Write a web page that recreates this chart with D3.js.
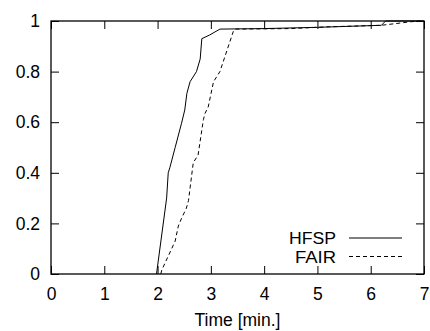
<!DOCTYPE html>
<html lang="en">
<head>
  <meta charset="UTF-8">
  <title>HFSP vs FAIR CDF</title>
  <script src="https://d3js.org/d3.v7.min.js"></script>
  <style>
    body { margin: 0; background: #fff; }
    svg text { font-family: "Liberation Sans", Arial, sans-serif; font-size: 17.5px; fill: #000; }
    svg .legend text { font-size: 16px; }
    .axis path { display: none; }
    .axis line { stroke: #000; stroke-width: 1; }
    .curve { fill: none; stroke: #000; stroke-width: 1; }
  </style>
</head>
<body>
<div id="chart"></div>
<script>

// data
const xTicks = [0, 1, 2, 3, 4, 5, 6, 7];
const yTicks = [0, 0.2, 0.4, 0.6, 0.8, 1];
const seriesNames = ["HFSP", "FAIR"];

const hfspX = [1.98, 2.17, 2.20, 2.23, 2.33, 2.45, 2.51, 2.55, 2.61, 2.73, 2.80, 2.83, 2.98, 3.17, 4.0, 5.0, 6.2, 6.28, 7.0];
const hfspY = [0, 0.30, 0.40, 0.42, 0.50, 0.596, 0.648, 0.714, 0.76, 0.80, 0.85, 0.93, 0.945, 0.968, 0.970, 0.975, 0.983, 1.0, 1.0];

const fairX = [2.06, 2.08, 2.33, 2.39, 2.45, 2.54, 2.58, 2.67, 2.76, 2.86, 2.89, 2.95, 3.05, 3.17, 3.42, 3.45, 4.5, 5.2, 6.2, 6.75, 6.92, 7.0];
const fairY = [0, 0.016, 0.13, 0.19, 0.22, 0.26, 0.29, 0.44, 0.47, 0.61, 0.635, 0.66, 0.76, 0.80, 0.958, 0.968, 0.970, 0.977, 0.983, 0.997, 1.0, 1.0];

const W = 430, H = 331;
const margin = {top: 21, right: 6, bottom: 57, left: 51};
const width = W - margin.left - margin.right,
      height = H - margin.top - margin.bottom;

const svg = d3.select("#chart").append("svg")
    .attr("width", W)
    .attr("height", H)
  .append("g")
    .attr("transform", `translate(${margin.left},${margin.top})`);

const x = d3.scaleLinear().domain([0, 7]).range([0, width]);
const y = d3.scaleLinear().domain([0, 1]).range([height, 0]);

// axes, ticks point inward (gnuplot style, mirrored)
svg.append("g").attr("class", "axis")
  .attr("transform", `translate(0,${height})`)
  .call(d3.axisBottom(x).tickValues(xTicks).tickFormat(d3.format("d")).tickSize(-8).tickPadding(14));
svg.append("g").attr("class", "axis")
  .call(d3.axisTop(x).tickValues(xTicks).tickSize(-8).tickFormat(""));
svg.append("g").attr("class", "axis")
  .call(d3.axisLeft(y).tickValues(yTicks).tickFormat(d => d3.format("")(d)).tickSize(-8).tickPadding(11));
svg.append("g").attr("class", "axis")
  .attr("transform", `translate(${width},0)`)
  .call(d3.axisRight(y).tickValues(yTicks).tickSize(-8).tickFormat(""));

svg.selectAll(".axis text").attr("font-size", null);

// border
svg.append("rect")
  .attr("width", width).attr("height", height)
  .attr("fill", "none").attr("stroke", "#000").attr("stroke-width", 1.3);

const line = d3.line().x(d => x(d[0])).y(d => y(d[1]));

const series = [
  {name: seriesNames[0], pts: d3.zip(hfspX, hfspY), dash: null},
  {name: seriesNames[1], pts: d3.zip(fairX, fairY), dash: "4,3"}
];

svg.selectAll(".curve")
  .data(series)
  .join("path")
    .attr("class", "curve")
    .attr("d", d => line(d.pts))
    .attr("stroke-dasharray", d => d.dash);

// legend
const leg = svg.append("g").attr("class", "legend").attr("transform", `translate(${285},${217})`);
series.forEach((s, i) => {
  const g = leg.append("g").attr("transform", `translate(0,${i * 18.5})`);
  g.append("text").attr("x", 0).attr("y", 6).attr("text-anchor", "end")
    .attr("textLength", i === 0 ? 47 : 41).attr("lengthAdjust", "spacingAndGlyphs")
    .text(s.name);
  g.append("line").attr("x1", 13).attr("x2", 66).attr("y1", 0).attr("y2", 0)
    .attr("stroke", "#000").attr("stroke-width", 1).attr("stroke-dasharray", s.dash);
});

// x label
svg.append("text")
  .attr("x", width / 2)
  .attr("y", height + 52)
  .attr("text-anchor", "middle")
  .text("Time [min.]");

</script>
</body>
</html>
